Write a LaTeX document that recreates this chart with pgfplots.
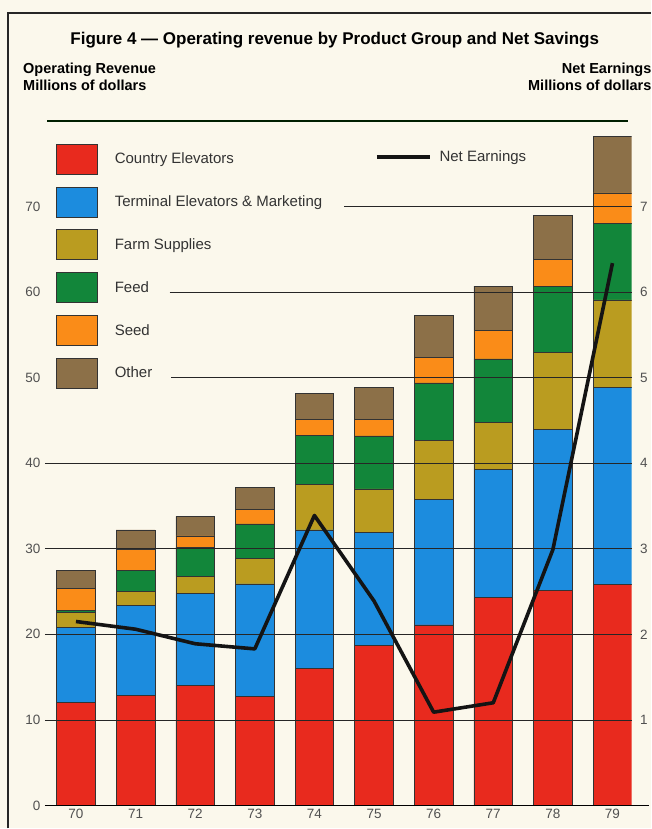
\documentclass[border=0pt]{standalone}
\usepackage{fontspec}
\setmainfont{Liberation Sans}
\usepackage{pgfplots}
\pgfplotsset{compat=1.18}
\definecolor{bg}{RGB}{251,248,236}
\definecolor{cred}{RGB}{232,42,30}
\definecolor{cblue}{RGB}{28,140,222}
\definecolor{colive}{RGB}{186,156,32}
\definecolor{cgreen}{RGB}{18,134,58}
\definecolor{corange}{RGB}{250,140,24}
\definecolor{cbrown}{RGB}{140,112,72}
\definecolor{lab}{RGB}{80,80,80}
\pgfplotsset{
  mybar/.style={fill=#1, draw=black!80, line width=0.6pt,
    legend image code/.code={\draw[fill=#1, draw=black!80, line width=0.8pt] (0pt,-15pt) rectangle (41pt,15pt);\path (56pt,0pt);}},
  grid line/.style={black!85, line width=0.7pt, forget plot, no markers},
}
\begin{document}
\begin{tikzpicture}[x=1pt,y=1pt]
\fill[bg] (0,0) rectangle (651,829);
\draw[line width=1.2pt, black!85] (8,0) -- (8,816) -- (651,816);
\node[font=\bfseries\fontsize{17}{20}\selectfont, anchor=center] at (335,789) {Figure 4 — Operating revenue by Product Group and Net Savings};
\node[font=\bfseries\fontsize{14.5}{16.5}\selectfont, anchor=north west, align=left, inner sep=0pt] at (23,766) {Operating Revenue\\Millions of dollars};
\node[font=\bfseries\fontsize{14.5}{16.5}\selectfont, anchor=north east, align=right, inner sep=0pt] at (652,766) {Net Earnings\\Millions of dollars};

\begin{axis}[
  at={(45pt,23pt)}, anchor=south west, scale only axis,
  width=587pt, height=684.8pt,
  xmin=-0.52, xmax=9.32, ymin=0, ymax=80,
  ybar stacked, bar width=0.65,
  axis line style={draw=none}, major tick length=0pt,
  ytick={0,10,...,70},
  xtick={0,...,9}, xticklabels={70,71,72,73,74,75,76,77,78,79},
  /pgf/number format/assume math mode=true,
  tick label style={font=\fontsize{13.5}{15}\selectfont, text=lab},
  yticklabel style={xshift=-1pt},
  legend style={at={(0.0187,0.967)}, anchor=north west, draw=none, fill=none,
    inner sep=0pt, row sep=12pt, font=\fontsize{15}{17}\selectfont, text=black!80},
  legend cell align=left,
]
\addplot[mybar=cred] coordinates {(0,12.0) (1,12.9) (2,14.0) (3,12.7) (4,16.0) (5,18.7) (6,21.1) (7,24.3) (8,25.1) (9,25.8)};
\addplot[mybar=cblue] coordinates {(0,8.8) (1,10.5) (2,10.8) (3,13.2) (4,16.2) (5,13.2) (6,14.7) (7,15.0) (8,18.9) (9,23.1)};
\addplot[mybar=colive] coordinates {(0,1.8) (1,1.6) (2,2.0) (3,3.0) (4,5.3) (5,5.1) (6,6.9) (7,5.5) (8,9.0) (9,10.2)};
\addplot[mybar=cgreen] coordinates {(0,0.2) (1,2.5) (2,3.4) (3,4.0) (4,5.8) (5,6.2) (6,6.7) (7,7.4) (8,7.7) (9,8.9)};
\addplot[mybar=corange] coordinates {(0,2.6) (1,2.4) (2,1.3) (3,1.7) (4,1.8) (5,1.9) (6,3.0) (7,3.3) (8,3.1) (9,3.6)};
\addplot[mybar=cbrown] coordinates {(0,2.1) (1,2.3) (2,2.3) (3,2.6) (4,3.1) (5,3.8) (6,4.9) (7,5.2) (8,5.2) (9,6.6)};
\legend{Country Elevators, Terminal Elevators \& Marketing, Farm Supplies, Feed, Seed, Other}
\end{axis}

\begin{axis}[
  at={(45pt,23pt)}, anchor=south west, scale only axis,
  width=587pt, height=684.8pt,
  xmin=-0.52, xmax=9.32, ymin=0, ymax=8,
  clip=false,
  axis line style={draw=none}, major tick length=0pt,
  xtick=\empty,
  ytick={1,...,7}, yticklabel pos=right,
  /pgf/number format/assume math mode=true,
  tick label style={font=\fontsize{13.5}{15}\selectfont, text=lab},
  yticklabel style={xshift=5pt},
  legend style={at={(0.562,0.948)}, anchor=west, draw=none, fill=none,
    inner sep=0pt, font=\fontsize{15}{17}\selectfont, text=black!80},
]
\addplot[grid line] coordinates {(-0.52,1) (9.32,1)};
\addplot[grid line] coordinates {(-0.52,2) (9.32,2)};
\addplot[grid line] coordinates {(-0.52,3) (9.32,3)};
\addplot[grid line] coordinates {(-0.52,4) (9.32,4)};
\addplot[grid line] coordinates {(1.6,5) (9.32,5)};
\addplot[grid line] coordinates {(1.57,6) (9.32,6)};
\addplot[grid line] coordinates {(4.5,7) (9.32,7)};
\addplot[grid line, line width=1.8pt, black!80!green!60!black] coordinates {(-0.485,8) (9.26,8)};
\addplot[grid line, line width=1.4pt, black] coordinates {(-0.52,0) (9.615,0)};
\addplot[black!92, line width=3.6pt, line join=round, no markers,
  legend image code/.code={\draw[black!92, line width=4pt] (0pt,0pt) -- (53pt,0pt);\path (59pt,0pt);}]
  coordinates {(0,2.15) (1,2.06) (2,1.89) (3,1.83) (4,3.39) (5,2.39) (6,1.09) (7,1.20) (8,2.99) (9,6.34)};
\legend{Net Earnings}
\end{axis}
\end{tikzpicture}
\end{document}
